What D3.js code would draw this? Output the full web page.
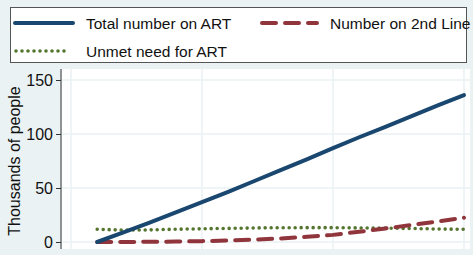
<!DOCTYPE html>
<html><head><meta charset="utf-8">
<script src="https://cdn.jsdelivr.net/npm/d3@7"></script>
<style>html,body{margin:0;padding:0;background:#eaf2f3;}svg{display:block;}</style>
</head><body>
<svg id="c" width="473" height="255"></svg>
<script>
const years = [2001,2002,2003,2004,2005,2006,2007,2008,2009,2010,2011,2012,2013,2014,2015];
const totalOnART = [0,9,18,27.5,37,46.5,56.5,66.5,76.5,87,97,106.5,116.5,126.5,136];
const secondLine = [0,0,0.2,0.4,0.8,1.4,2.2,3.3,4.8,6.6,9.5,12.5,15.8,19,22.5];
const unmetNeed = [11.8,11,11.2,11.8,12.2,12.6,13,13.2,13.3,13.3,13,12.8,12.5,12,11.8];
const yTicks = [0,50,100,150];
const xGrid = [2000,2005,2010,2015];
const seriesNames = ["Total number on ART","Number on 2nd Line","Unmet need for ART"];

const svg = d3.select("#c");
const font = "'Liberation Sans', Arial, sans-serif";
const x = d3.scaleLinear().domain([2000,2015]).range([71,464]);
const y = d3.scaleLinear().domain([0,150]).range([242,80]);

svg.append("rect").attr("width",473).attr("height",255).attr("fill","#eaf2f3");
// plot region
svg.append("rect").attr("x",62).attr("y",69).attr("width",408).attr("height",180).attr("fill","#ffffff");

// gridlines
svg.append("g").selectAll("line.h").data(yTicks).join("line")
  .attr("x1",62).attr("x2",470).attr("y1",d=>y(d)).attr("y2",d=>y(d))
  .attr("stroke","#eaf2f3").attr("stroke-width",1.5);
svg.append("g").selectAll("line.v").data(xGrid).join("line")
  .attr("x1",d=>x(d)).attr("x2",d=>x(d)).attr("y1",69).attr("y2",249)
  .attr("stroke","#eaf2f3").attr("stroke-width",1.5);

// y axis
const yAxis = d3.axisLeft(y).tickValues(yTicks).tickSize(5).tickPadding(3);
const ga = svg.append("g").attr("transform","translate(61,0)").call(yAxis);
ga.select(".domain").attr("d","M0,69V249").attr("stroke","#333");
ga.selectAll(".tick line").attr("stroke","#333");
ga.selectAll(".tick text").attr("font-family",font).attr("font-size",16).attr("fill","#111").attr("dy","0.36em");

svg.append("text").attr("transform","translate(20,161) rotate(-90)")
  .attr("text-anchor","middle").attr("font-family",font).attr("font-size",16).attr("fill","#111")
  .text("Thousands of people");

const line = d3.line().x(d=>x(d[0])).y(d=>y(d[1]));
const styles = [
  {color:"#1a476f", w:4, dash:null, cap:"round"},
  {color:"#90353b", w:4, dash:"14 9", cap:"round"},
  {color:"#55752f", w:3.6, dash:"0 6", cap:"round"}
];
const data = [totalOnART, secondLine, unmetNeed];
// draw order: unmet, second, total
[2,1,0].forEach(i=>{
  svg.append("path").datum(years.map((yr,j)=>[yr,data[i][j]]))
    .attr("d",line).attr("fill","none").attr("stroke",styles[i].color)
    .attr("stroke-width",styles[i].w).attr("stroke-linecap",styles[i].cap)
    .attr("stroke-linejoin","round")
    .attr("stroke-dasharray",styles[i].dash);
});

// legend
svg.append("rect").attr("x",10.5).attr("y",7.5).attr("width",456).attr("height",55)
  .attr("fill","#ffffff").attr("stroke","#555").attr("stroke-width",1);
const leg = [
  {i:0, x1:15, x2:73, tx:86, ty:23},
  {i:1, x1:262, x2:317, tx:330, ty:23},
  {i:2, x1:16, x2:68, tx:86, ty:51}
];
leg.forEach(l=>{
  const s = styles[l.i];
  svg.append("line").attr("x1",l.x1).attr("x2",l.x2).attr("y1",l.ty).attr("y2",l.ty)
    .attr("stroke",s.color).attr("stroke-width",s.w).attr("stroke-linecap",s.cap)
    .attr("stroke-dasharray",s.dash);
  svg.append("text").attr("x",l.tx).attr("y",l.ty).attr("dy","0.36em")
    .attr("font-family",font).attr("font-size",15.5).attr("fill","#111")
    .text(seriesNames[l.i]);
});
</script>
</body></html>
